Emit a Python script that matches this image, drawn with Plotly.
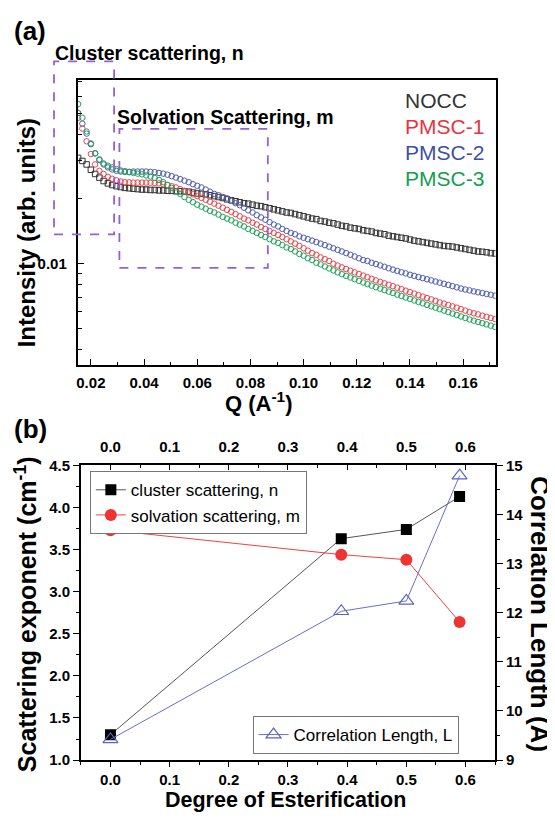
import plotly.graph_objects as go

# ---------------- Panel (a) data: SAXS intensity vs Q ----------------
Q = [0.0152, 0.0168, 0.0184, 0.0200, 0.0216, 0.0232, 0.0248, 0.0264, 0.0280, 0.0296,
     0.0312, 0.0328, 0.0344, 0.0360, 0.0376, 0.0392, 0.0408, 0.0424, 0.0440, 0.0456,
     0.0472, 0.0488, 0.0504, 0.0520, 0.0536, 0.0552, 0.0568, 0.0584, 0.0600, 0.0616,
     0.0632, 0.0648, 0.0664, 0.0680, 0.0696, 0.0712, 0.0728, 0.0744, 0.0760, 0.0776,
     0.0792, 0.0808, 0.0824, 0.0840, 0.0856, 0.0872, 0.0888, 0.0904, 0.0920, 0.0936,
     0.0952, 0.0968, 0.0984, 0.1000, 0.1016, 0.1032, 0.1048, 0.1064, 0.1080, 0.1096,
     0.1112, 0.1128, 0.1144, 0.1160, 0.1176, 0.1192, 0.1208, 0.1224, 0.1240, 0.1256,
     0.1272, 0.1288, 0.1304, 0.1320, 0.1336, 0.1352, 0.1368, 0.1384, 0.1400, 0.1416,
     0.1432, 0.1448, 0.1464, 0.1480, 0.1496, 0.1512, 0.1528, 0.1544, 0.1560, 0.1576,
     0.1592, 0.1608, 0.1624, 0.1640, 0.1656, 0.1672, 0.1688, 0.1704, 0.1720]

NOCC = [0.0310, 0.0300, 0.0289, 0.0273, 0.0261, 0.0251, 0.0242, 0.0236, 0.0232, 0.0229,
        0.0227, 0.0225, 0.0224, 0.0223, 0.0222, 0.0221, 0.0221, 0.0220, 0.0220, 0.0219,
        0.0219, 0.0218, 0.0218, 0.0217, 0.0217, 0.02165, 0.0216, 0.0214, 0.0212, 0.0211,
        0.0210, 0.0208, 0.0206, 0.0204, 0.0202, 0.0199, 0.0197, 0.0195, 0.0193, 0.0191,
        0.0190, 0.0188, 0.0186, 0.0185, 0.0183, 0.0181, 0.0179, 0.0177, 0.0175, 0.0173,
        0.0172, 0.0170, 0.0168, 0.0166, 0.0164, 0.0162, 0.0161, 0.0158, 0.0157, 0.0155,
        0.0154, 0.0152, 0.0150, 0.0149, 0.0147, 0.0146, 0.0145, 0.0143, 0.0142, 0.0141,
        0.0139, 0.0138, 0.0137, 0.0135, 0.0134, 0.0133, 0.0132, 0.0131, 0.01295, 0.0128,
        0.0127, 0.0126, 0.0125, 0.0124, 0.0123, 0.0122, 0.0121, 0.01206, 0.0120, 0.0119,
        0.0118, 0.0117, 0.0116, 0.0115, 0.0114, 0.01136, 0.0113, 0.0112, 0.01116]

PMSC1 = [0.0476, 0.0424, 0.0370, 0.0323, 0.0289, 0.0270, 0.0261, 0.0253, 0.0248, 0.0244,
         0.0241, 0.0239, 0.02386, 0.0238, 0.0238, 0.0238, 0.0238, 0.02376, 0.0237, 0.0236,
         0.0234, 0.0232, 0.0229, 0.0226, 0.0222, 0.0218, 0.0214, 0.0210, 0.0206, 0.0202,
         0.0198, 0.0194, 0.0190, 0.0186, 0.0182, 0.0178, 0.0174, 0.0170, 0.0166, 0.0162,
         0.0159, 0.0155, 0.0152, 0.0148, 0.0145, 0.0142, 0.0139, 0.0136, 0.0133, 0.0130,
         0.0127, 0.0124, 0.0121, 0.0118, 0.0115, 0.0112, 0.0110, 0.0107, 0.0105, 0.0103,
         0.0100, 0.00981, 0.00962, 0.00945, 0.00928, 0.00912, 0.00896, 0.00881, 0.00866, 0.00851,
         0.00837, 0.00824, 0.00811, 0.00799, 0.00786, 0.00774, 0.00762, 0.00750, 0.00738, 0.00727,
         0.00715, 0.00704, 0.00693, 0.00683, 0.00672, 0.00661, 0.00653, 0.00643, 0.00634, 0.00625,
         0.00615, 0.00606, 0.00596, 0.00589, 0.00582, 0.00574, 0.00567, 0.00560, 0.00553]

PMSC2 = [0.0501, 0.0447, 0.0402, 0.0359, 0.0325, 0.0303, 0.0289, 0.0280, 0.0274, 0.0270,
         0.0268, 0.0267, 0.0267, 0.0268, 0.0268, 0.0268, 0.0268, 0.0267, 0.0266, 0.0264,
         0.0262, 0.0259, 0.0255, 0.0251, 0.0247, 0.0243, 0.0239, 0.0234, 0.0230, 0.0226,
         0.0221, 0.0216, 0.0211, 0.0208, 0.0204, 0.0201, 0.0196, 0.0191, 0.0187, 0.0182,
         0.0177, 0.0173, 0.0168, 0.0164, 0.0160, 0.0156, 0.0152, 0.0149, 0.0145, 0.0142,
         0.0139, 0.0137, 0.0134, 0.0132, 0.0130, 0.0128, 0.0126, 0.0124, 0.0122, 0.0120,
         0.0118, 0.0116, 0.0114, 0.0112, 0.0110, 0.0108, 0.0106, 0.0104, 0.0103, 0.0101,
         0.00997, 0.00982, 0.00968, 0.00953, 0.00939, 0.00926, 0.00913, 0.00902, 0.00889, 0.00878,
         0.00867, 0.00857, 0.00847, 0.00837, 0.00827, 0.00817, 0.00807, 0.00797, 0.00787, 0.00777,
         0.00767, 0.00759, 0.00752, 0.00744, 0.00737, 0.00731, 0.00724, 0.00718, 0.00711]

PMSC3 = [0.0551, 0.0476, 0.0411, 0.0362, 0.0326, 0.0305, 0.0292, 0.0285, 0.0280, 0.0275,
         0.0271, 0.0269, 0.0266, 0.0264, 0.0262, 0.0260, 0.0257, 0.0254, 0.0250, 0.0245,
         0.0239, 0.0232, 0.0225, 0.0217, 0.0211, 0.0204, 0.0198, 0.0193, 0.0188, 0.0184,
         0.0180, 0.0176, 0.0173, 0.0169, 0.0165, 0.0162, 0.0159, 0.0155, 0.0152, 0.0149,
         0.0145, 0.0142, 0.0139, 0.0136, 0.0133, 0.0130, 0.0127, 0.0125, 0.0122, 0.0119,
         0.0117, 0.0114, 0.0111, 0.0109, 0.0106, 0.0104, 0.0101, 0.00993, 0.00971, 0.00951,
         0.00931, 0.00912, 0.00894, 0.00878, 0.00863, 0.00848, 0.00833, 0.00818, 0.00804, 0.00791,
         0.00778, 0.00766, 0.00754, 0.00742, 0.00731, 0.00719, 0.00708, 0.00697, 0.00686, 0.00675,
         0.00665, 0.00655, 0.00644, 0.00634, 0.00625, 0.00615, 0.00606, 0.00596, 0.00587, 0.00578,
         0.00569, 0.00560, 0.00551, 0.00544, 0.00537, 0.00530, 0.00523, 0.00516, 0.00509]

SAMPLE_NAMES = ["NOCC", "PMSC-1", "PMSC-2", "PMSC-3"]
Q_TICKS = [0.02, 0.04, 0.06, 0.08, 0.10, 0.12, 0.14, 0.16]

# ---------------- Panel (b) data ----------------
DE = [0.0, 0.39, 0.50, 0.59]
cluster_n = [1.30, 3.63, 3.74, 4.13]
solvation_m = [3.73, 3.44, 3.38, 2.64]
corr_L = [9.42, 12.03, 12.24, 14.79]

FONT = "Arial, 'Liberation Sans', sans-serif"
# the page body adds an 8 px margin, so the figure is drawn 8 px smaller
OFF = 8
W, H = 555 - OFF, 818 - OFF


def px(x):
    return (x - OFF) / W


def py(y):
    return 1 - (y - OFF) / H


# frame positions (window pixels)
A_L, A_R, A_T, A_B = 76.7, 495.5, 72.0, 363.0
B_L, B_R, B_T, B_B = 80.0, 495.0, 466.0, 767.0

C_BLACK = "#333333"
C_RED = "#E8474F"
C_BLUE = "#4F5DB0"
C_GREEN = "#1FA35A"

fig = go.Figure()

series = [(NOCC, C_BLACK, "square-open"), (PMSC1, C_RED, "circle-open"),
          (PMSC2, C_BLUE, "circle-open"), (PMSC3, C_GREEN, "circle-open")]
for (vals, col, sym), name in zip(series, SAMPLE_NAMES):
    fig.add_trace(go.Scatter(x=Q, y=vals, mode="markers", name=name,
                             marker=dict(symbol=sym, size=5.5, color=col,
                                         line=dict(width=1, color=col)),
                             xaxis="x", yaxis="y", showlegend=False))

# panel (b)
fig.add_trace(go.Scatter(x=DE, y=cluster_n, mode="lines+markers",
                         name="cluster scattering, n",
                         line=dict(color="#555555", width=1),
                         marker=dict(symbol="square", size=11, color="black"),
                         xaxis="x3", yaxis="y3", legend="legend"))
fig.add_trace(go.Scatter(x=DE, y=solvation_m, mode="lines+markers",
                         name="solvation scattering, m",
                         line=dict(color="#F04040", width=1),
                         marker=dict(symbol="circle", size=12, color="#EE3333"),
                         xaxis="x3", yaxis="y3", legend="legend"))
fig.add_trace(go.Scatter(x=DE, y=corr_L, mode="lines+markers",
                         name="Correlation Length, L",
                         line=dict(color="#6670C8", width=1),
                         marker=dict(symbol="triangle-up-open", size=13, color="#5A64C0",
                                     line=dict(width=1.2, color="#5A64C0")),
                         xaxis="x3", yaxis="y4", legend="legend2"))
# invisible trace so the top axis is drawn
fig.add_trace(go.Scatter(x=[0.0], y=[2.0], mode="markers", marker=dict(opacity=0),
                         xaxis="x4", yaxis="y3", showlegend=False, hoverinfo="skip"))

tickfont = dict(family=FONT, size=15, color="black", weight="bold")
axis_common = dict(showline=True, linecolor="black", linewidth=1.6, showgrid=False,
                   zeroline=False, tickfont=tickfont, tickcolor="black")

fig.update_layout(
    width=W, height=H, margin=dict(l=0, r=0, t=0, b=0),
    paper_bgcolor="white", plot_bgcolor="white",
    font=dict(family=FONT, color="black"),
    xaxis=dict(domain=[px(A_L), px(A_R)], anchor="y", range=[0.015, 0.1722],
               tickvals=Q_TICKS, ticktext=[f"{v:.2f}" for v in Q_TICKS],
               ticks="inside", ticklen=6, tickwidth=1.3, mirror=True,
               minor=dict(tickvals=[0.03, 0.05, 0.07, 0.09, 0.11, 0.13, 0.15, 0.17],
                          ticks="inside", ticklen=3, tickcolor="black", tickwidth=1.2),
               ticklabelstandoff=4, **axis_common),
    yaxis=dict(domain=[py(A_B), py(A_T)], anchor="x", type="log",
               range=[-2.468, -1.1455],
               tickvals=[0.01], ticktext=["0.01"], ticks="inside", ticklen=7,
               tickwidth=1.3, mirror=True,
               minor=dict(tickvals=[0.004, 0.005, 0.006, 0.007, 0.008, 0.009,
                                    0.02, 0.03, 0.04, 0.05, 0.06, 0.07],
                          ticks="inside", ticklen=5, tickcolor="black", tickwidth=1.2),
               ticklabelstandoff=6, **axis_common),
    xaxis3=dict(domain=[px(B_L), px(B_R)], anchor="y3", range=[-0.05, 0.65],
                dtick=0.1, tick0=0, tickformat=".1f", ticks="outside", ticklen=5,
                tickwidth=1.3,
                minor=dict(dtick=0.05, tick0=0, ticks="outside", ticklen=3,
                           tickcolor="black", tickwidth=1.2),
                ticklabelstandoff=0, **axis_common),
    xaxis4=dict(overlaying="x3", side="top", anchor="y3", range=[-0.05, 0.65],
                dtick=0.1, tick0=0, tickformat=".1f", ticks="inside", ticklen=5,
                tickwidth=1.3,
                minor=dict(dtick=0.05, tick0=0, ticks="inside", ticklen=3,
                           tickcolor="black", tickwidth=1.2),
                ticklabelstandoff=6, **axis_common),
    yaxis3=dict(domain=[py(B_B), py(B_T)], anchor="x3", range=[1.0, 4.5],
                dtick=0.5, tick0=1, tickformat=".1f", ticks="outside", ticklen=6,
                tickwidth=1.3,
                minor=dict(dtick=0.25, tick0=1, ticks="outside", ticklen=3,
                           tickcolor="black", tickwidth=1.2),
                **axis_common),
    yaxis4=dict(overlaying="y3", side="right", anchor="x3", range=[9, 15],
                dtick=1, tick0=9, ticks="outside", ticklen=6, tickwidth=1.3,
                minor=dict(dtick=0.5, tick0=9, ticks="outside", ticklen=3,
                           tickcolor="black", tickwidth=1.2),
                **axis_common),
    legend=dict(x=px(89), y=py(472), xanchor="left", yanchor="top",
                bgcolor="white", bordercolor="#777777", borderwidth=1,
                font=dict(family=FONT, size=17, color="black"),
                tracegroupgap=0, itemwidth=30),
    legend2=dict(x=px(252), y=py(722), xanchor="left", yanchor="top",
                 bgcolor="white", bordercolor="#777777", borderwidth=1,
                 font=dict(family=FONT, size=17, color="black"), itemwidth=30),
)

# dashed selection rectangles in panel (a)
PURPLE = "#9A5FCF"
for (x0, y0, x1, y1) in [(53.1, 53.3, 113.3, 230.0), (118.6, 122.3, 267.3, 264.3)]:
    fig.add_shape(type="rect", xref="paper", yref="paper",
                  x0=px(x0), x1=px(x1), y0=py(y1), y1=py(y0),
                  line=dict(color=PURPLE, width=1.8, dash="dash"),
                  fillcolor="rgba(0,0,0,0)")


def ann(text, x, y, size, color="black", bold=True, xanchor="center",
        yanchor="middle", angle=0):
    fig.add_annotation(text=text, x=px(x), y=py(y), xref="paper", yref="paper",
                       xanchor=xanchor, yanchor=yanchor, textangle=angle,
                       showarrow=False, borderpad=0,
                       font=dict(family=FONT, size=size, color=color,
                                 weight="bold" if bold else "normal"))


ann("(a)", 12, 22, 26, xanchor="left")
ann("(b)", 12, 429, 26, xanchor="left")
ann("Cluster scattering, n", 53, 44.5, 19.5, xanchor="left")
ann("Solvation Scattering, m", 115, 110, 19.5, xanchor="left")

legend_cols = [C_BLACK, "#E8343E", "#3F4FA8", "#12A050"]
for i, (name, col) in enumerate(zip(SAMPLE_NAMES, legend_cols)):
    ann(name, 403.5, 93.5 + i * 26.5, 21, color=col, bold=False, xanchor="left")

ann("Intensity (arb. units)", 25, 228, 24, angle=-90)
ann("Q (A<sup>-1</sup>)", 258, 401, 22)
ann("Scattering exponent (cm<sup>-1</sup>)", 25, 618, 25, angle=-90)
ann("Correlation Length (A)", 540, 618, 26, angle=90)
ann("Degree of Esterification", 285, 808, 21.5)

fig.write_html("out.html")
